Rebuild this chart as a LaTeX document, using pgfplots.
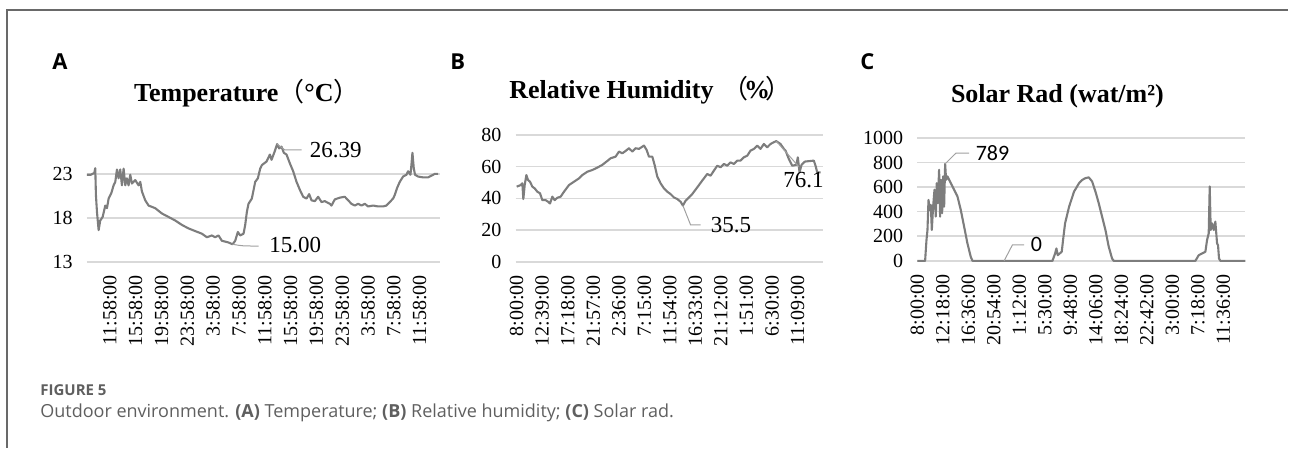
\documentclass[border=0pt]{standalone}
\usepackage{fontspec}
\setmainfont{Liberation Serif}
\newfontfamily\cali{Carlito}
\newfontfamily\osans{Open Sans}
\newfontfamily\cjk{Noto Sans CJK SC}
\usepackage{pgfplots}
\pgfplotsset{compat=1.18}
\definecolor{datagray}{RGB}{125,125,125}
\definecolor{gridgray}{RGB}{217,217,217}
\definecolor{leadgray}{RGB}{160,160,160}
\definecolor{capgray}{RGB}{95,95,95}
\definecolor{framegray}{RGB}{105,105,105}

\pgfplotsset{panel/.style={
  scale only axis, axis line style={draw=none}, major tick length=0pt,
  ymajorgrids, grid style={gridgray, line width=0.8pt},
  tick label style={font=\fontsize{10}{12}\selectfont},
  /pgf/number format/assume math mode=true,
  /pgf/number format/1000 sep={},
  xticklabel style={rotate=90, anchor=east, inner sep=0pt},
  yticklabel style={anchor=east, inner sep=0pt},
  xticklabel shift=6.5pt, yticklabel shift=7pt,
  clip=false, anchor=south west,
  every axis plot post/.append style={datagray, line width=1.05pt, line join=round, mark=none},
}}

\pgfplotstableread{
h T
0.41 22.9
1.00 22.9
1.55 23.1
1.70 23.65
1.80 20.6
1.96 18.7
2.22 16.6
2.47 17.7
2.84 18.1
3.25 19.4
3.51 19.1
3.77 20.2
4.18 20.8
4.54 21.7
4.80 22.1
5.06 23.5
5.31 22.5
5.57 23.5
5.83 21.7
6.09 23.6
6.35 21.7
6.60 22.5
6.86 21.7
7.12 22.9
7.38 21.9
7.89 22.3
8.41 21.7
8.67 22.1
8.93 21.0
9.44 20.0
9.96 19.4
10.99 19.1
12.02 18.5
13.06 18.1
14.09 17.7
15.12 17.2
16.15 16.8
17.18 16.5
18.22 16.2
18.99 15.8
19.77 16.0
20.28 15.8
20.80 16.0
21.31 15.4
22.35 15.2
22.97 15.0
23.38 15.4
23.79 16.4
24.15 16.0
24.67 16.2
24.93 17.2
25.19 18.7
25.44 19.6
25.96 20.2
26.48 22.1
26.89 22.5
27.25 23.6
27.51 24.0
28.23 24.4
28.75 25.2
29.01 24.6
29.52 25.6
29.88 26.39
30.19 25.9
30.55 26.1
30.92 25.4
31.33 25.2
31.85 24.2
32.36 23.3
32.88 22.1
33.39 21.2
33.91 20.4
34.43 20.2
34.84 20.7
35.20 20.0
35.72 19.9
36.23 20.4
36.75 19.8
37.26 19.9
38.04 19.6
38.30 19.4
38.81 20.1
39.59 20.3
40.36 20.4
40.88 20.0
41.39 19.6
41.91 19.4
42.43 19.6
42.94 19.4
43.46 19.6
43.97 19.3
44.75 19.4
45.52 19.3
46.30 19.3
46.81 19.4
47.33 19.8
47.85 20.2
48.10 20.6
48.46 21.4
48.88 22.1
49.39 22.7
49.91 22.9
50.17 23.3
50.53 22.9
50.68 24.0
50.84 25.4
51.05 23.6
51.25 22.9
51.72 22.7
52.49 22.6
53.26 22.6
53.78 22.8
54.30 23.0
54.81 23.0
}\temptable

\pgfplotstableread{
h RH
0.00 47.4
0.73 48.4
1.03 49.5
1.21 39.6
1.46 48.4
1.76 54.7
2.06 51.6
2.43 50.5
2.85 47.4
3.28 46.3
3.76 44.2
4.25 43.2
4.67 38.9
5.28 38.9
5.70 37.9
6.07 36.8
6.49 41.1
6.92 38.9
7.40 40.4
8.01 41.1
8.62 44.2
9.53 48.4
10.44 50.5
11.35 52.6
11.95 54.7
12.86 56.8
13.78 57.9
14.69 59.4
15.59 61.1
16.51 63.6
17.11 65.3
18.02 66.3
18.63 69.5
19.24 68.4
19.84 69.9
20.45 71.6
21.06 69.5
21.66 71.6
22.27 71.2
22.88 72.6
23.18 73.3
23.67 70.5
24.09 66.3
24.70 66.3
25.12 61.1
25.61 53.7
26.21 49.5
26.82 46.3
27.43 44.2
28.03 42.7
28.64 40.6
29.24 39.6
29.85 37.9
30.27 35.5
30.76 38.5
31.37 40.6
31.97 42.7
32.88 46.9
33.79 51.2
34.71 55.4
35.31 54.3
35.92 57.5
36.53 60.6
37.13 59.6
37.74 61.7
38.35 60.6
38.95 62.7
39.56 61.7
40.17 63.8
40.77 63.8
41.38 65.9
41.99 66.9
42.59 70.1
43.20 71.2
43.81 73.3
44.41 71.2
45.02 74.3
45.63 72.2
46.23 74.3
46.84 75.4
47.27 76.1
48.05 74.3
48.66 71.2
48.97 70.1
49.57 64.8
50.18 60.6
50.91 61.1
51.21 65.9
51.51 56.4
51.88 61.1
52.48 63.2
54.12 63.8
54.43 60.6
54.73 56.4
55.34 56.4
}\rhtable

\pgfplotstableread{
h S
0.00 0
1.29 0
1.52 169
1.69 251
1.86 496
2.08 414
2.25 455
2.42 251
2.64 441
2.87 578
3.09 360
3.26 632
3.43 469
3.65 741
3.82 360
4.00 659
4.16 387
4.33 687
4.50 441
4.67 789
4.83 659
5.06 687
5.62 632
6.18 578
6.75 523
7.31 414
7.87 278
8.43 142
8.99 33
9.28 0
22.77 0
23.22 60
23.44 101
23.66 46
24.00 60
24.34 74
24.56 169
24.90 305
25.58 441
26.42 564
27.26 632
27.82 659
28.33 673
28.90 679
29.46 646
30.02 564
30.58 469
31.14 360
31.71 251
32.27 114
32.83 19
33.11 0
46.88 0
47.45 46
48.01 60
48.57 74
48.85 169
49.13 223
49.30 605
49.47 251
49.69 305
49.97 251
50.25 319
50.54 142
50.70 128
50.87 19
51.10 0
55.30 0
}\soltable

\begin{document}
\begin{tikzpicture}
\path (0pt,0pt) rectangle (644.5pt,224pt);
\draw[framegray, line width=0.75pt] (3.5pt,0pt) -- (3.5pt,219pt) -- (644.5pt,219pt);

% Panel A
\begin{axis}[panel, at={(43.5pt,93pt)}, width=176.5pt, height=66pt,
  xmin=0.41, xmax=55.07, ymin=13, ymax=28, ytick={13,18,23},
  xtick={3.97,7.97,11.97,15.97,19.97,23.97,27.97,31.97,35.97,39.97,43.97,47.97,51.97},
  xticklabels={11:58:00,15:58:00,19:58:00,23:58:00,3:58:00,7:58:00,11:58:00,15:58:00,19:58:00,23:58:00,3:58:00,7:58:00,11:58:00}]
\addplot table[x=h,y=T] {\temptable};
\draw[leadgray, line width=0.5pt] (axis cs:29.88,26.39) -- (axis cs:31.07,25.73) -- (axis cs:33.66,25.73);
\node[anchor=west, inner sep=0pt, font=\fontsize{11.5}{13}\selectfont] at (axis cs:34.9,25.73) {26.39};
\draw[leadgray, line width=0.5pt] (axis cs:22.97,15.0) .. controls (axis cs:24.5,14.8) .. (axis cs:26.99,14.8);
\node[anchor=west, inner sep=0pt, font=\fontsize{11.5}{13}\selectfont] at (axis cs:28.6,14.9) {15.00};
\end{axis}

% Panel B
\begin{axis}[panel, at={(258pt,93pt)}, width=153.5pt, height=63.5pt,
  xmin=-0.18, xmax=55.70, ymin=0, ymax=80, ytick={0,20,40,60,80},
  xtick={0,4.65,9.3,13.95,18.6,23.25,27.9,32.55,37.2,41.85,46.5,51.15},
  xticklabels={8:00:00,12:39:00,17:18:00,21:57:00,2:36:00,7:15:00,11:54:00,16:33:00,21:12:00,1:51:00,6:30:00,11:09:00}]
\addplot table[x=h,y=RH] {\rhtable};
\draw[leadgray, line width=0.5pt] (axis cs:30.27,35.5) -- (axis cs:31.67,23.3) -- (axis cs:33.49,23.3);
\node[anchor=west, inner sep=0pt, font=\fontsize{11.5}{13}\selectfont] at (axis cs:35.3,23.3) {35.5};
\draw[leadgray, line width=0.5pt] (axis cs:47.27,76.1) -- (axis cs:51.38,60);
\node[inner sep=0pt, font=\fontsize{11.5}{13}\selectfont] at (axis cs:52.24,51.6) {76.1};
\end{axis}

% Panel C
\begin{axis}[panel, at={(459pt,93.5pt)}, width=164pt, height=61.5pt,
  xmin=0, xmax=55.3, ymin=0, ymax=1000, ytick={0,200,400,600,800,1000},
  xtick={0,4.3,8.6,12.9,17.2,21.5,25.8,30.1,34.4,38.7,43.0,47.3,51.6},
  xticklabels={8:00:00,12:18:00,16:36:00,20:54:00,1:12:00,5:30:00,9:48:00,14:06:00,18:24:00,22:42:00,3:00:00,7:18:00,11:36:00}]
\addplot table[x=h,y=S] {\soltable};
\draw[leadgray, line width=0.5pt] (axis cs:4.67,789) -- (axis cs:6.48,876) -- (axis cs:8.72,876);
\node[anchor=west, inner sep=0pt, font=\cali\fontsize{11}{13}\selectfont] at (axis cs:9.78,878) {789};
\draw[leadgray, line width=0.5pt] (axis cs:14.62,0) -- (axis cs:16.02,130) -- (axis cs:18.0,130);
\node[anchor=west, inner sep=0pt, font=\cali\fontsize{11}{13}\selectfont] at (axis cs:19.06,130) {0};
\end{axis}

% Titles
\node[font=\bfseries\fontsize{13}{15}\selectfont] at (123.5pt,177.5pt) {Temperature{\mdseries\cjk （}°C{\mdseries\cjk ）}};
\node[font=\bfseries\fontsize{13}{15}\selectfont] at (325.5pt,179pt) {Relative Humidity \hspace{1pt}{\mdseries\cjk （}\hspace{-2pt}\%\hspace{-2pt}{\mdseries\cjk ）}};
\node[font=\bfseries\fontsize{13}{15}\selectfont] at (529pt,176pt) {Solar Rad (wat/m²)};

% Panel letters
\node[font=\osans\bfseries\fontsize{11}{13}\selectfont] at (30pt,193pt) {A};
\node[font=\osans\bfseries\fontsize{11}{13}\selectfont] at (229pt,193pt) {B};
\node[font=\osans\bfseries\fontsize{11}{13}\selectfont] at (434pt,193pt) {C};

% Caption
\node[anchor=west, inner sep=0pt, text=capgray, font=\osans\bfseries\fontsize{7.5}{9}\selectfont] at (20pt,29pt) {FIGURE 5};
\node[anchor=west, inner sep=0pt, text=capgray, font=\osans\fontsize{9}{11}\selectfont] at (20pt,17.5pt) {Outdoor environment. \textbf{(A)} Temperature; \textbf{(B)} Relative humidity; \textbf{(C)} Solar rad.};
\end{tikzpicture}
\end{document}
